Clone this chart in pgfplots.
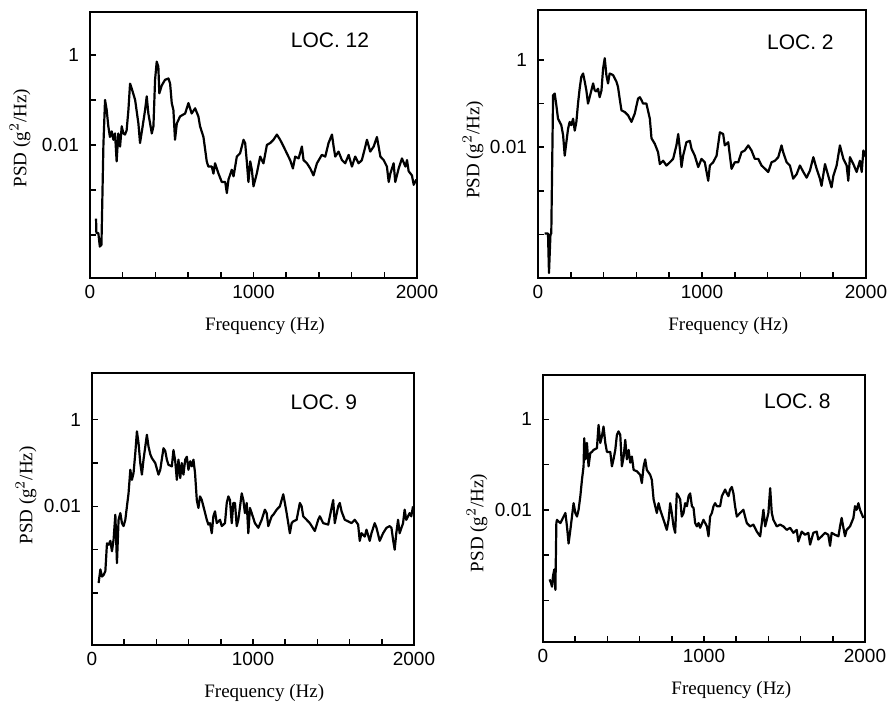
\documentclass[border=0pt]{standalone}
\usepackage{fontspec}
\setmainfont{Liberation Serif}
\newfontfamily\helv{Liberation Sans}
\usepackage{pgfplots}
\pgfplotsset{compat=1.18}
\pgfkeys{/pgf/number format/assume math mode=true}

% shared look of the four PSD panels
\pgfplotsset{psd/.style={
  scale only axis,
  xmin=0, xmax=2000,
  axis line style={line width=0.75pt},
  xtick={0,200,...,2000},
  xticklabels={0,,,,,1000,,,,,2000},
  ytick={1e-4,1e-3,1e-2,1e-1,1},
  yticklabels={,,0.01,,1},
  yminorticks=false, xminorticks=false,
  tick align=inside, xtick pos=left, ytick pos=left,
  major tick length=3pt,
  tick style={line width=0.75pt, black},
  ticklabel style={font=\helv\fontsize{9.5}{11}\selectfont},
  yticklabel style={xshift=-2pt},
  label style={font=\fontsize{9.5}{11}\selectfont},
  xlabel={Frequency (Hz)},
  ylabel={PSD (g$^2$/Hz)},
},
psdline/.style={black, line width=1.1pt, line join=round, mark=none}}
\newcommand{\loc}[3]{\node[font=\helv\fontsize{10.5}{12}\selectfont] at (rel axis cs:#1,#2) {#3};}

\begin{document}
\begin{tikzpicture}
\path[use as bounding box] (0,0) rectangle (445.5pt,351.5pt);

% LOC. 12
\begin{axis}[ymode=log, psd, at={(45pt,212.5pt)}, width=163.5pt, height=133pt,
  ymin=1.1e-5, ymax=9,
  xlabel style={at={(axis description cs:0.535,-0.12)}, anchor=north},
  ylabel style={at={(axis description cs:-0.214,0.526)}, anchor=center}]
\addplot[psdline] table {
x y
37 2.3e-4
39 1.1e-4
51 1.1e-4
60 5.5e-5
70 6e-5
82 1e-2
92 1e-1
102 6e-2
112 2.6e-2
122 1.5e-2
133 2.0e-2
143 1.3e-2
153 1.8e-2
163 4.3e-3
173 1.8e-2
184 9.2e-3
194 2.6e-2
204 1.8e-2
214 1.7e-2
224 2.1e-2
235 6e-2
245 2.3e-1
255 1.8e-1
276 1e-1
296 3.0e-2
306 1.1e-2
322 2.6e-2
337 6e-2
347 1.2e-1
357 5e-2
378 1.8e-2
388 2.6e-2
398 2.8e-1
408 7.1e-1
418 5.5e-1
424 1.4e-1
439 2.1e-1
459 2.8e-1
480 3.0e-1
490 2.3e-1
500 8.5e-2
510 6e-2
520 1.3e-2
531 3.0e-2
551 4.3e-2
582 5e-2
602 8.5e-2
612 6.5e-2
622 5e-2
643 6.5e-2
663 4.3e-2
673 2.6e-2
694 1.5e-2
714 4.3e-3
724 3.3e-3
745 3.3e-3
755 2.3e-3
765 3.9e-3
786 2.3e-3
806 1.5e-3
827 1.5e-3
837 8.5e-4
847 1.7e-3
867 2.8e-3
878 2.0e-3
898 5.5e-3
918 6.5e-3
939 1.3e-2
949 1.1e-2
959 4.3e-3
969 1.5e-3
980 4.3e-3
990 2.8e-3
1000 1.2e-3
1020 2.3e-3
1041 5.5e-3
1061 3.9e-3
1082 1.0e-2
1102 1.1e-2
1122 1.3e-2
1143 1.7e-2
1163 1.3e-2
1184 9.2e-3
1204 6.5e-3
1224 4.6e-3
1241 3.0e-3
1255 5.5e-3
1276 5e-3
1296 9.2e-3
1306 4.6e-3
1327 3.9e-3
1347 3.0e-3
1367 2.1e-3
1388 3.9e-3
1418 6.0e-3
1439 5.5e-3
1459 1.1e-2
1480 1.7e-2
1490 9.2e-3
1500 5.5e-3
1520 7.1e-3
1541 4.6e-3
1561 3.9e-3
1582 6.0e-3
1602 3.3e-3
1622 5.5e-3
1643 3.9e-3
1663 4.6e-3
1684 9.2e-3
1694 1.3e-2
1714 7.1e-3
1735 9.2e-3
1755 1.5e-2
1776 5.5e-3
1796 4.6e-3
1816 3.3e-3
1827 1.5e-3
1837 2.3e-3
1857 3.9e-3
1867 1.5e-3
1888 3.0e-3
1908 5.0e-3
1929 3.3e-3
1939 4.6e-3
1949 2.6e-3
1969 2.1e-3
1980 1.3e-3
1996 1.7e-3
};
\loc{0.734}{0.895}{LOC. 12}
\end{axis}

% LOC. 2
\begin{axis}[ymode=log, psd, at={(269pt,212.5pt)}, width=164pt, height=134pt,
  ymin=1e-5, ymax=14,
  xlabel style={at={(axis description cs:0.58,-0.12)}, anchor=north},
  ylabel style={at={(axis description cs:-0.198,0.478)}, anchor=center}]
\addplot[psdline] table {
x y
41 1.05e-4
61 1.05e-4
67 1.3e-5
76 1e-4
81 1.05e-4
92 1.55e-1
102 1.7e-1
112 9.1e-2
122 4.5e-2
132 3.8e-2
142 3.2e-2
153 1.9e-2
163 6.4e-3
173 1.3e-2
183 2.6e-2
193 3.8e-2
203 3.2e-2
214 4.5e-2
224 2.4e-2
234 3.8e-2
244 1.0e-1
254 2.2e-1
264 4.1e-1
275 4.9e-1
285 3.2e-1
295 2.0e-1
305 1.0e-1
315 1.4e-1
336 2.9e-1
346 2.0e-1
356 1.9e-1
366 2.2e-1
376 1.4e-1
387 2.0e-1
397 6.4e-1
407 1.1
417 4.5e-1
427 2.9e-1
437 4.9e-1
458 4.5e-1
478 3.2e-1
488 2.4e-1
498 1.3e-1
509 7.0e-2
529 6.4e-2
549 5.4e-2
570 3.8e-2
590 5.9e-2
610 1.3e-1
621 1.4e-1
631 1.2e-1
641 1.0e-1
661 1.0e-1
682 4.5e-2
692 1.6e-2
712 1.2e-2
732 7.7e-3
743 4.1e-3
763 4.9e-3
783 3.8e-3
804 4.5e-3
824 5.4e-3
844 1.1e-2
855 2.0e-2
865 9.2e-3
875 3.5e-3
885 6.4e-3
905 1.3e-2
926 1.4e-2
936 9.2e-3
956 6.4e-3
977 3.5e-3
997 5.4e-3
1017 4.5e-3
1038 1.7e-3
1048 3.8e-3
1068 4.5e-3
1089 6.4e-3
1109 2.2e-2
1129 2.0e-2
1139 1.1e-2
1160 1.3e-2
1180 3.2e-3
1200 4.5e-3
1221 4.5e-3
1241 7.7e-3
1261 8.4e-3
1282 1.1e-2
1302 8.4e-3
1322 5.4e-3
1343 5.4e-3
1363 3.8e-3
1384 3.2e-3
1404 2.7e-3
1424 4.5e-3
1445 4.9e-3
1465 5.9e-3
1485 1.1e-2
1495 7.7e-3
1516 4.5e-3
1536 3.8e-3
1556 1.9e-3
1577 2.4e-3
1597 3.8e-3
1618 2.7e-3
1638 2.0e-3
1658 2.9e-3
1679 5.9e-3
1699 3.2e-3
1719 1.9e-3
1729 1.3e-3
1750 4.1e-3
1770 2.2e-3
1790 1.2e-3
1801 2.2e-3
1821 3.8e-3
1841 1.1e-2
1862 5.4e-3
1882 3.8e-3
1892 1.7e-3
1902 5.9e-3
1923 4.1e-3
1943 2.7e-3
1963 4.9e-3
1974 2.7e-3
1984 8.4e-3
2000 5.9e-3
};
\loc{0.80}{0.88}{LOC. 2}
\end{axis}

% LOC. 9
\begin{axis}[ymode=log, psd, at={(46pt,29pt)}, width=161pt, height=136pt,
  ymin=6.3e-6, ymax=12,
  xlabel style={at={(axis description cs:0.535,-0.12)}, anchor=north},
  ylabel style={at={(axis description cs:-0.205,0.55)}, anchor=center}]
\addplot[psdline] table {
x y
41 1.7e-4
52 3.5e-4
62 2.4e-4
72 2.6e-4
83 3.2e-4
93 1.4e-3
103 1.3e-3
114 1.6e-3
124 9.2e-4
134 1.7e-3
145 6.4e-3
155 4.9e-4
165 4.9e-3
176 7.0e-3
186 4.1e-3
196 3.5e-3
207 4.9e-3
217 1e-2
227 2.0e-2
238 7.0e-2
248 4.1e-2
258 5.9e-2
269 1.7e-1
279 5.4e-1
289 2.9e-1
300 1.0e-1
310 5.4e-2
320 1.2e-1
341 4.5e-1
351 2.4e-1
362 1.6e-1
372 1.3e-1
393 1.0e-1
413 5.4e-2
424 7.0e-2
444 2.2e-1
455 1.9e-1
465 1.2e-1
475 9.1e-2
496 8.4e-2
506 2.0e-1
517 1.1e-1
527 4.1e-2
537 1.2e-1
548 4.5e-2
558 1.0e-1
568 5.4e-2
579 1.2e-1
589 1.4e-1
599 7.0e-2
610 1.1e-1
620 8.4e-2
630 1.2e-1
640 5.9e-2
651 1.4e-2
661 9.2e-3
671 1.7e-2
682 1.4e-2
692 1e-2
713 4.9e-3
723 3.8e-3
733 4.1e-3
744 2.4e-3
754 5.9e-3
764 7.7e-3
775 4.1e-3
795 4.9e-3
806 3.5e-3
826 4.1e-3
837 1.2e-2
847 1.7e-2
857 1.4e-2
868 4.1e-3
878 1.2e-2
888 1.2e-2
899 3.5e-3
909 4.9e-3
930 2.0e-2
940 1.4e-2
950 7.0e-3
961 1.2e-2
971 2.4e-3
981 9.2e-3
992 7.0e-3
1012 4.1e-3
1033 3.2e-3
1054 4.9e-3
1074 8.4e-3
1085 7.0e-3
1095 3.5e-3
1116 5.9e-3
1126 6.4e-3
1147 8.4e-3
1167 1e-2
1188 1.9e-2
1198 1.2e-2
1209 7.0e-3
1229 2.4e-3
1240 4.1e-3
1250 4.5e-3
1271 4.9e-3
1291 1.2e-2
1302 1e-2
1312 5.9e-3
1333 4.9e-3
1353 4.1e-3
1384 2.7e-3
1405 4.9e-3
1415 5.9e-3
1436 4.1e-3
1467 3.8e-3
1498 1.4e-2
1508 4.1e-3
1529 1e-2
1539 1.2e-2
1550 7.7e-3
1570 4.9e-3
1591 4.5e-3
1612 4.1e-3
1632 4.9e-3
1653 3.8e-3
1663 1.6e-3
1674 2.4e-3
1694 2.0e-3
1705 2.9e-3
1725 1.6e-3
1736 2.4e-3
1756 4.1e-3
1767 3.2e-3
1787 1.6e-3
1808 2.4e-3
1829 3.2e-3
1849 3.5e-3
1860 3.2e-3
1870 1.7e-3
1880 1.0e-3
1890 2.4e-3
1901 4.9e-3
1911 2.4e-3
1932 4.1e-3
1942 8.4e-3
1952 4.9e-3
1973 7.0e-3
1983 5.9e-3
1994 1e-2
};
\loc{0.72}{0.893}{LOC. 9}
\end{axis}

% LOC. 8
\begin{axis}[ymode=log, psd, at={(271.5pt,30.5pt)}, width=161pt, height=133.5pt,
  ymin=1.2e-5, ymax=9.5,
  xlabel style={at={(axis description cs:0.585,-0.12)}, anchor=north},
  ylabel style={at={(axis description cs:-0.205,0.446)}, anchor=center}]
\addplot[psdline] table {
x y
41 2.9e-4
50 2.4e-4
56 2.0e-4
62 3.4e-4
70 4.8e-4
77 1.7e-4
83 5.1e-3
87 6.0e-3
97 5.5e-3
108 5.1e-3
118 6.0e-3
128 7.1e-3
139 8.5e-3
149 4.3e-3
159 1.8e-3
170 3.6e-3
180 7.1e-3
190 1.4e-2
201 8.5e-3
211 7.1e-3
221 1e-2
232 2.0e-2
242 4.6e-2
252 9.1e-2
256 3.8e-1
263 1.3e-1
273 3.0e-1
283 9.1e-2
294 1.8e-1
304 1.9e-1
314 2.1e-1
335 2.3e-1
345 7.5e-1
356 3.0e-1
366 4.2e-1
376 6.9e-1
387 3.0e-1
397 1.9e-1
418 1.9e-1
428 9.1e-2
438 1.3e-1
449 2.1e-1
459 4.5e-1
469 5.4e-1
480 4.5e-1
490 9.1e-2
501 1.5e-1
511 3.5e-1
521 1.3e-1
532 2.1e-1
542 1.1e-1
552 1.5e-1
563 7.6e-2
583 7.1e-2
604 5.9e-2
614 3.9e-2
625 9.1e-2
635 1.3e-1
645 7.6e-2
666 5.9e-2
676 4.6e-2
687 1.7e-2
697 1.2e-2
707 8.5e-3
718 1.4e-2
728 1e-2
749 6.0e-3
769 3.6e-3
780 6.0e-3
790 1.4e-2
800 8.5e-3
811 4.3e-3
821 3.1e-3
831 2.3e-2
842 2.0e-2
852 1.7e-2
862 7.1e-3
873 8.5e-3
883 1.4e-2
894 1.2e-2
904 2.0e-2
914 2.3e-2
925 1.2e-2
935 1.1e-2
945 5.1e-3
956 4.3e-3
966 5.1e-3
976 4.0e-3
997 6.0e-3
1018 4.3e-3
1028 2.6e-3
1038 7.1e-3
1049 8.5e-3
1059 1.2e-2
1069 1.4e-2
1080 1.2e-2
1100 1.2e-2
1111 2.0e-2
1131 2.8e-2
1142 2.3e-2
1152 2.0e-2
1162 2.8e-2
1173 3.2e-2
1183 2.3e-2
1193 1.2e-2
1204 7.1e-3
1224 8.5e-3
1245 1e-2
1255 7.1e-3
1266 5.1e-3
1286 4.3e-3
1307 4.7e-3
1328 3.3e-3
1349 2.6e-3
1369 1e-2
1380 4.3e-3
1390 6.0e-3
1400 8.5e-3
1411 3.0e-2
1421 8.5e-3
1431 6.0e-3
1452 4.3e-3
1473 4.7e-3
1493 4.3e-3
1514 3.6e-3
1535 4.0e-3
1555 3.1e-3
1576 3.6e-3
1586 2.0e-3
1607 3.3e-3
1628 2.8e-3
1648 3.1e-3
1659 1.7e-3
1679 3.1e-3
1700 3.3e-3
1710 2.2e-3
1731 2.6e-3
1752 3.1e-3
1772 2.8e-3
1783 1.6e-3
1793 3.1e-3
1814 2.8e-3
1835 2.6e-3
1845 4.3e-3
1855 6.6e-3
1866 4.0e-3
1876 2.6e-3
1886 3.6e-3
1907 4.3e-3
1928 6.6e-3
1938 1.2e-2
1948 1e-2
1959 1.4e-2
1969 1e-2
1990 6.6e-3
};
\loc{0.79}{0.90}{LOC. 8}
\end{axis}
\end{tikzpicture}
\end{document}
